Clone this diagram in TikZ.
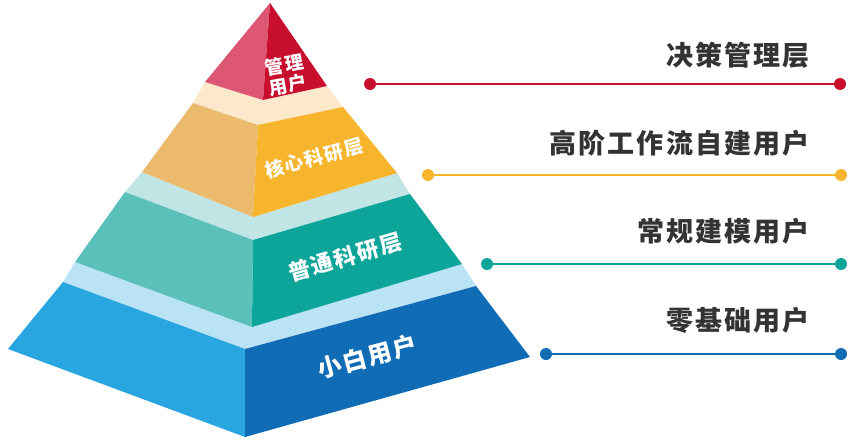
\documentclass[tikz,border=0pt]{standalone}
\usepackage{fontspec}
\newfontfamily\cjk{Noto Sans CJK SC}[LetterSpace=8]
\definecolor{redL}{HTML}{DD5673}
\definecolor{redR}{HTML}{C8102E}
\definecolor{yelL}{HTML}{EBBA6C}
\definecolor{yelR}{HTML}{F6B52D}
\definecolor{yelT}{HTML}{FCE8CB}
\definecolor{teaL}{HTML}{5BBFBA}
\definecolor{teaR}{HTML}{0DA49A}
\definecolor{teaT}{HTML}{C1E4E5}
\definecolor{bluL}{HTML}{29A6E0}
\definecolor{bluR}{HTML}{0F6CB5}
\definecolor{bluT}{HTML}{BAE3F6}
\definecolor{txt}{HTML}{333333}
\tikzset{
  facelabel/.style={text=white, font=\cjk\bfseries, inner sep=0pt, align=center},
  sidelabel/.style={text=txt, font=\cjk\bfseries\fontsize{27}{30}\selectfont, anchor=east, inner sep=0pt},
  dotnode/.style={circle, fill=#1, minimum size=12pt, inner sep=0pt},
  linkline/.style={draw=#1, line width=2.2pt}
}
\begin{document}
\begin{tikzpicture}[x=1pt,y=-1pt]
\path[use as bounding box] (0,0) rectangle (864,442);
% blue layer
\fill[bluT] (63,282)--(245,349)--(476,286)--(462,264)--(252,327)--(75,262)--cycle;
\fill[bluL] (63,282)--(245,349)--(245,437)--(8,349)--cycle;
\fill[bluR] (245,349)--(476,286)--(530,357)--(245,437)--cycle;
% teal layer
\fill[teaT] (125,192)--(253,240)--(410,194)--(397,173)--(253,217)--(142,172)--cycle;
\fill[teaL] (125,192)--(253,240)--(252,327)--(75,262)--cycle;
\fill[teaR] (253,240)--(410,194)--(462,264)--(252,327)--cycle;
% yellow layer
\fill[yelT] (193,103)--(258,125)--(343,107)--(327,86)--(263,100)--(205,82)--cycle;
\fill[yelL] (193,103)--(258,125)--(253,217)--(142,172)--cycle;
\fill[yelR] (258,125)--(343,107)--(397,173)--(253,217)--cycle;
% red top
\fill[redL] (270,3)--(263,100)--(205,82)--cycle;
\fill[redR] (270,3)--(327,86)--(263,100)--cycle;
% face labels
\node[facelabel, rotate=10, font=\cjk\bfseries\fontsize{18.5}{20.5}\selectfont] (l1) at (286,75) {管理\\用户};
\node[facelabel, rotate=15, font=\cjk\bfseries\fontsize{19}{22}\selectfont] (l2) at (314,158) {核心科研层};
\node[facelabel, rotate=16, font=\cjk\bfseries\fontsize{22}{25}\selectfont] (l3) at (345,257) {普通科研层};
\node[facelabel, rotate=15, font=\cjk\bfseries\fontsize{24}{27}\selectfont] (l4) at (367,357) {小白用户};
% right labels
\node[sidelabel] (t1) at (810,55) {决策管理层};
\node[sidelabel] (t2) at (810,143) {高阶工作流自建用户};
\node[sidelabel] (t3) at (810,231) {常规建模用户};
\node[sidelabel] (t4) at (810,320) {零基础用户};
% connectors
\node[dotnode=redR] (a1) at (370,84) {};
\node[dotnode=redR] (b1) at (840,84) {};
\draw[linkline=redR] (a1) -- (b1);
\node[dotnode=yelR] (a2) at (428,175) {};
\node[dotnode=yelR] (b2) at (841,175) {};
\draw[linkline=yelR] (a2) -- (b2);
\node[dotnode=teaR] (a3) at (487,264) {};
\node[dotnode=teaR] (b3) at (841,264) {};
\draw[linkline=teaR] (a3) -- (b3);
\node[dotnode=bluR] (a4) at (546,354) {};
\node[dotnode=bluR] (b4) at (841,354) {};
\draw[linkline=bluR] (a4) -- (b4);
\end{tikzpicture}
\end{document}
